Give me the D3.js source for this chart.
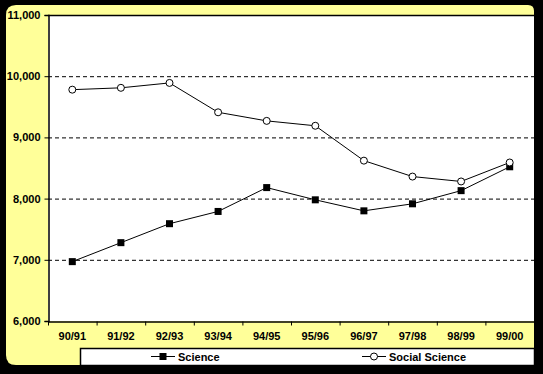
<!DOCTYPE html>
<html>
<head>
<meta charset="utf-8">
<script src="https://cdn.jsdelivr.net/npm/d3@7"></script>
<style>
  html, body { margin: 0; padding: 0; background: #000; }
  text { font-family: "Liberation Sans", Arial, sans-serif; font-weight: bold; }
</style>
</head>
<body>
<div id="root"></div>
<script>
const years = ["90/91", "91/92", "92/93", "93/94", "94/95", "95/96", "96/97", "97/98", "98/99", "99/00"]
const science = [6970, 7280, 7590, 7790, 8180, 7980, 7800, 7915, 8130, 8520]
const socialScience = [9780, 9810, 9890, 9410, 9270, 9190, 8620, 8360, 8280, 8590]
const yTicks = [6000, 7000, 8000, 9000, 10000, 11000]

const width = 543
const height = 374
const plot = { left: 48, top: 15, right: 534, bottom: 321 }

const svg = d3.select("#root").append("svg")
  .attr("width", width)
  .attr("height", height)
  .style("display", "block")

svg.append("rect").attr("width", width).attr("height", height).attr("fill", "#000")

// yellow chart area with rounded corners
svg.append("path")
  .attr("fill", "#ffff99")
  .attr("d", "M16,5 H528 Q534,5 534,11 V365 H16 Q6,365 6,355 V15 Q6,5 16,5 Z")

svg.append("rect")
  .attr("x", plot.left).attr("y", plot.top)
  .attr("width", plot.right - plot.left).attr("height", plot.bottom - plot.top)
  .attr("fill", "#fff")

const x = d3.scaleBand().domain(years).range([plot.left, plot.right])
const y = d3.scaleLinear().domain([6000, 11000]).range([plot.bottom, plot.top])

// grid
svg.append("g").selectAll("line")
  .data(yTicks.slice(1, -1))
  .join("line")
  .attr("x1", plot.left).attr("x2", plot.right)
  .attr("y1", d => y(d) + 0.5).attr("y2", d => y(d) + 0.5)
  .attr("stroke", "#000")
  .attr("stroke-dasharray", "4,3")

// top border
svg.append("line")
  .attr("x1", plot.left).attr("x2", plot.right)
  .attr("y1", plot.top + 0.5).attr("y2", plot.top + 0.5)
  .attr("stroke", "#000").attr("stroke-width", 1.5)

const yAxis = svg.append("g")
  .attr("transform", `translate(${plot.left + 0.5},0)`)
  .call(d3.axisLeft(y).tickValues(yTicks).tickSize(4).tickFormat(d3.format(",")))
yAxis.select(".domain").attr("stroke-width", 1.5)
yAxis.selectAll("text").attr("font-size", 11).attr("fill", "#000").attr("dx", -1)

const xAxis = svg.append("g")
  .attr("transform", `translate(0,${plot.bottom + 0.5})`)
  .call(d3.axisBottom(x).tickSize(0).tickPadding(11))
xAxis.select(".domain").attr("stroke-width", 1.5)
xAxis.selectAll("text").attr("font-size", 11).attr("fill", "#000")

// category boundary ticks
xAxis.append("g").selectAll("line")
  .data(years)
  .join("line")
  .attr("x1", d => x(d) + 0.5).attr("x2", d => x(d) + 0.5)
  .attr("y1", 0).attr("y2", 4)
  .attr("stroke", "#000")

const line = d3.line()
  .x((d, i) => x(years[i]) + x.bandwidth() / 2)
  .y(d => y(d))

svg.append("path").datum(science)
  .attr("d", line).attr("fill", "none").attr("stroke", "#000")
svg.append("path").datum(socialScience)
  .attr("d", line).attr("fill", "none").attr("stroke", "#000")

svg.append("g").selectAll("rect")
  .data(science)
  .join("rect")
  .attr("x", (d, i) => x(years[i]) + x.bandwidth() / 2 - 3.5)
  .attr("y", d => y(d) - 3.5)
  .attr("width", 7).attr("height", 7)
  .attr("fill", "#000")

svg.append("g").selectAll("circle")
  .data(socialScience)
  .join("circle")
  .attr("cx", (d, i) => x(years[i]) + x.bandwidth() / 2)
  .attr("cy", d => y(d))
  .attr("r", 3.5)
  .attr("fill", "#fff")
  .attr("stroke", "#000")

// legend
const legend = svg.append("g")
svg.append("rect")
  .attr("x", 80.5).attr("y", 348.5).attr("width", 454).attr("height", 17)
  .attr("fill", "#fff").attr("stroke", "#000").attr("stroke-width", 1.5)

const legendItems = [
  { name: "Science", x: 151, marker: "square" },
  { name: "Social Science", x: 362, marker: "circle" },
]
legendItems.forEach(item => {
  const g = svg.append("g").attr("transform", `translate(${item.x},356.5)`)
  g.append("line").attr("x1", 0).attr("x2", 24).attr("stroke", "#000")
  if (item.marker === "square") {
    g.append("rect").attr("x", 8.5).attr("y", -3.5).attr("width", 7).attr("height", 7).attr("fill", "#000")
  } else {
    g.append("circle").attr("cx", 12).attr("r", 3.5).attr("fill", "#fff").attr("stroke", "#000")
  }
  g.append("text").attr("x", 27).attr("y", 4).attr("font-size", 11).text(item.name)
})
</script>
</body>
</html>
